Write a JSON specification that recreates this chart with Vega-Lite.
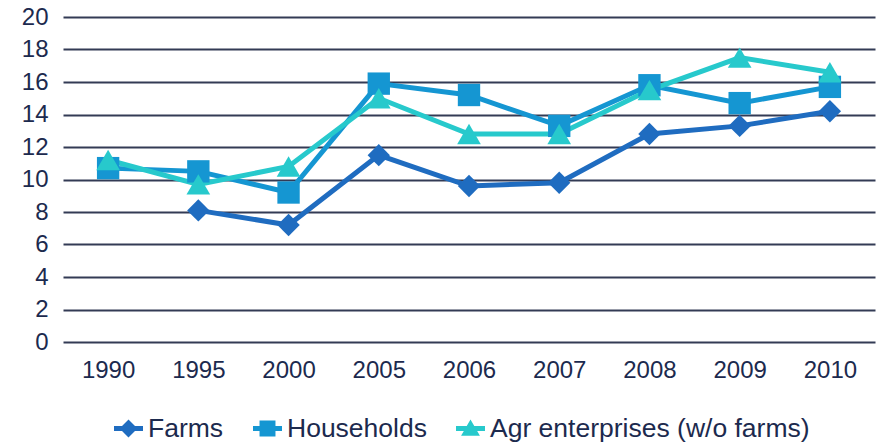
{
  "$schema": "https://vega.github.io/schema/vega-lite/v6.json",
  "width": 812,
  "height": 325,
  "autosize": "none",
  "padding": {"left": 63, "top": 17, "right": 6, "bottom": 101},
  "background": "white",
  "data": {"values": [
    {"year": "1990", "series": "Households", "value": 10.7},
    {"year": "1995", "series": "Households", "value": 10.5},
    {"year": "2000", "series": "Households", "value": 9.2},
    {"year": "2005", "series": "Households", "value": 15.9},
    {"year": "2006", "series": "Households", "value": 15.2},
    {"year": "2007", "series": "Households", "value": 13.3},
    {"year": "2008", "series": "Households", "value": 15.8},
    {"year": "2009", "series": "Households", "value": 14.7},
    {"year": "2010", "series": "Households", "value": 15.7},
    {"year": "1995", "series": "Farms", "value": 8.1},
    {"year": "2000", "series": "Farms", "value": 7.2},
    {"year": "2005", "series": "Farms", "value": 11.5},
    {"year": "2006", "series": "Farms", "value": 9.6},
    {"year": "2007", "series": "Farms", "value": 9.8},
    {"year": "2008", "series": "Farms", "value": 12.8},
    {"year": "2009", "series": "Farms", "value": 13.3},
    {"year": "2010", "series": "Farms", "value": 14.2},
    {"year": "1990", "series": "Agr enterprises (w/o farms)", "value": 11.2},
    {"year": "1995", "series": "Agr enterprises (w/o farms)", "value": 9.7},
    {"year": "2000", "series": "Agr enterprises (w/o farms)", "value": 10.8},
    {"year": "2005", "series": "Agr enterprises (w/o farms)", "value": 15.0},
    {"year": "2006", "series": "Agr enterprises (w/o farms)", "value": 12.8},
    {"year": "2007", "series": "Agr enterprises (w/o farms)", "value": 12.8},
    {"year": "2008", "series": "Agr enterprises (w/o farms)", "value": 15.5},
    {"year": "2009", "series": "Agr enterprises (w/o farms)", "value": 17.5},
    {"year": "2010", "series": "Agr enterprises (w/o farms)", "value": 16.6}
  ]},
  "encoding": {
    "x": {"field": "year", "type": "ordinal", "scale": {"paddingOuter": 0.5},
      "axis": {"title": null, "labelAngle": 0, "domain": false, "ticks": false, "labelPadding": 16, "labelFontSize": 24, "labelFont": "Liberation Sans", "labelColor": "#1c2a4e"}},
    "y": {"field": "value", "type": "quantitative", "scale": {"domain": [0, 20], "nice": false},
      "axis": {"title": null, "values": [0,2,4,6,8,10,12,14,16,18,20], "domain": false, "ticks": false, "labelPadding": 15, "labelFontSize": 24, "labelFont": "Liberation Sans", "labelColor": "#1c2a4e", "gridColor": "#333b55", "gridWidth": 2.2, "gridOpacity": 1}},
    "color": {"field": "series", "type": "nominal",
      "scale": {"domain": ["Farms", "Households", "Agr enterprises (w/o farms)"], "range": ["#1f6cc0", "#1596d2", "#27c9cc"]},
      "legend": {"title": null, "orient": "none", "legendX": 51, "legendY": 397, "direction": "horizontal", "labelFontSize": 26.5, "labelFont": "Liberation Sans", "labelColor": "#1c2a4e", "labelLimit": 400, "symbolSize": 841, "columnPadding": 29, "labelOffset": 5, "symbolStrokeWidth": 0, "padding": 0,
        "encode": {"symbols": {"update": {
          "shape": {"signal": "datum.value === 'Farms' ? 'M-1,-0.17H1V0.17H-1Z M0,-0.62L0.62,0L0,0.62L-0.62,0Z' : datum.value === 'Households' ? 'M-1,-0.17H1V0.17H-1Z M-0.55,-0.55H0.55V0.55H-0.55Z' : 'M-1,-0.17H1V0.17H-1Z M0,-0.62L0.65,0.5L-0.65,0.5Z'"},
          "fill": {"signal": "scale('color', datum.value)"},
          "fillOpacity": {"value": 1},
          "strokeWidth": {"value": 0},
          "size": {"value": 841}
        }}}}}
  },
  "layer": [
    {"mark": {"type": "line", "strokeWidth": 5}},
    {"transform": [{"filter": "datum.series === 'Farms'"}],
     "mark": {"type": "point", "filled": true, "opacity": 1, "shape": "diamond", "size": 500}},
    {"transform": [{"filter": "datum.series === 'Households'"}],
     "mark": {"type": "point", "filled": true, "opacity": 1, "shape": "square", "size": 500}},
    {"transform": [{"filter": "datum.series === 'Agr enterprises (w/o farms)'"}],
     "mark": {"type": "point", "filled": true, "opacity": 1, "shape": "triangle-up", "size": 560}}
  ],
  "config": {"view": {"stroke": null}}
}
